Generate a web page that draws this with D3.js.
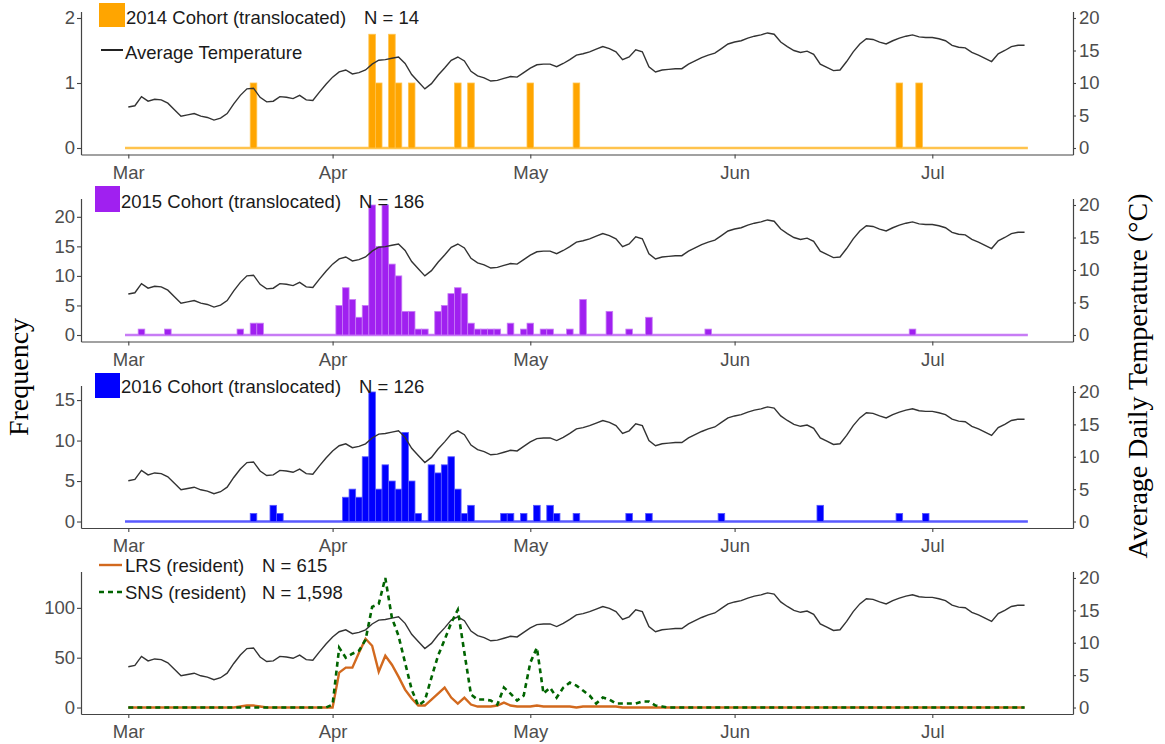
<!DOCTYPE html>
<html>
<head>
<meta charset="utf-8">
<script src="https://cdnjs.cloudflare.com/ajax/libs/d3/7.8.5/d3.min.js"></script>
<style>
  body { margin: 0; background: #fff; }
  svg text { font-family: "Liberation Sans", Arial, sans-serif; }
</style>
</head>
<body>
<div id="chart"></div>
<script>
// first day of the series, every series below is indexed by days after it
var startDate = "2015-03-01";
var monthTicks = ["2015-03-01", "2015-04-01", "2015-05-01", "2015-06-01", "2015-07-01"];

// average daily temperature (°C), Mar 1 .. Jul 15
var temperature = [
  6.3, 6.5, 7.9, 7.2, 7.5, 7.4, 6.9, 5.9, 4.9, 5.1,
  5.3, 4.9, 4.7, 4.3, 4.6, 5.3, 6.8, 8.1, 9.1, 9.2,
  7.8, 7.1, 7.2, 7.9, 7.8, 7.6, 8.1, 7.4, 7.3, 8.6,
  9.8, 10.9, 11.7, 12.0, 11.4, 11.6, 12.0, 12.9, 13.5, 13.6,
  13.8, 14.0, 13.0, 11.3, 10.2, 9.1, 9.9, 11.2, 12.3, 13.5,
  14.0, 13.4, 11.8, 11.1, 10.8, 10.3, 10.4, 10.7, 11.0, 10.9,
  11.6, 12.3, 12.8, 12.9, 12.9, 12.5, 13.0, 13.6, 14.3, 14.5,
  14.8, 15.2, 15.6, 15.3, 14.8, 13.6, 14.0, 15.1, 14.8, 12.5,
  11.7, 12.0, 12.1, 12.2, 12.2, 12.9, 13.4, 13.9, 14.3, 14.6,
  15.3, 16.0, 16.3, 16.5, 16.9, 17.2, 17.4, 17.7, 17.5, 16.3,
  15.6, 15.0, 14.7, 14.9, 14.4, 12.9, 12.4, 11.9, 12.0, 13.3,
  14.8, 16.0, 16.8, 16.7, 16.3, 16.0, 16.5, 16.9, 17.2, 17.4,
  17.1, 17.0, 17.0, 16.8, 16.5, 15.8, 15.5, 15.4, 14.7, 14.3,
  13.8, 13.3, 14.5, 15.0, 15.6, 15.8, 15.8
];

// translocated cohorts: emergence day (days after Mar 1) and count
var days2014   = [19, 37, 38, 40, 41, 43, 50, 52, 61, 68, 117, 120];
var counts2014 = [1, 1.75, 1, 1.75, 1, 1, 1, 1, 1, 1, 1, 1];

var days2015   = [2, 6, 17, 19, 20, 32, 33, 34, 35, 36, 37, 38, 39, 40, 41, 42, 43, 44, 45,
                  47, 48, 49, 50, 51, 52, 53, 54, 55, 56, 58, 60, 61, 63, 64, 67, 69, 73, 76, 79, 88, 119];
var counts2015 = [1, 1, 1, 2, 2, 5, 8, 6, 3, 5, 22, 15, 22, 12, 10, 4, 4, 1, 1,
                  4, 5, 7, 8, 7, 2, 1, 1, 1, 1, 2, 1, 2, 1, 1, 1, 6, 4, 1, 3, 1, 1];

var days2016   = [19, 22, 23, 33, 34, 35, 36, 37, 38, 39, 40, 41, 42, 43, 44,
                  46, 47, 48, 49, 50, 51, 52, 57, 58, 60, 62, 64, 65, 68, 76, 79, 90, 105, 117, 121];
var counts2016 = [1, 2, 1, 3, 4, 3, 8, 16, 4, 7, 5, 4, 11, 5, 1,
                  7, 6, 7, 8, 4, 1, 2, 1, 1, 1, 2, 2, 1, 1, 1, 1, 1, 2, 1, 1];

// resident populations, daily counts Mar 1 .. Jul 15
var lrs = [
  0, 0, 0, 0, 0, 0, 0, 0, 0, 0,
  0, 0, 0, 0, 0, 0, 0, 1, 2, 2,
  1, 0, 0, 0, 0, 0, 0, 0, 0, 0,
  0, 0, 35, 40, 40, 55, 69, 62, 36, 52,
  43, 31, 18, 9, 2, 2, 8, 14, 20, 10,
  4, 10, 3, 1, 1, 1, 2, 5, 2, 1,
  1, 1, 2, 1, 1, 1, 1, 1, 0, 1,
  1, 1, 1, 1, 1, 0, 0, 0, 0, 0,
  0, 0, 0, 0, 0, 0, 0, 0, 0, 0,
  0, 0, 0, 0, 0, 0, 0, 0, 0, 0,
  0, 0, 0, 0, 0, 0, 0, 0, 0, 0,
  0, 0, 0, 0, 0, 0, 0, 0, 0, 0,
  0, 0, 0, 0, 0, 0, 0, 0, 0, 0,
  0, 0, 0, 0, 0, 0, 0
];
var sns = [
  0, 0, 0, 0, 0, 0, 0, 0, 0, 0,
  0, 0, 0, 0, 0, 0, 0, 0, 0, 0,
  0, 0, 0, 0, 0, 0, 0, 0, 0, 0,
  0, 3, 60, 50, 54, 57, 68, 101, 104, 130,
  90, 72, 45, 18, 2, 7, 30, 52, 68, 85,
  98, 55, 13, 8, 8, 7, 3, 20, 14, 7,
  12, 45, 60, 14, 20, 10, 20, 25, 22, 17,
  12, 4, 10, 8, 4, 4, 4, 4, 6, 6,
  2, 1, 0, 0, 0, 0, 0, 0, 0, 0,
  0, 0, 0, 0, 0, 0, 0, 0, 0, 0,
  0, 0, 0, 0, 0, 0, 0, 0, 0, 0,
  0, 0, 0, 0, 0, 0, 0, 0, 0, 0,
  0, 0, 0, 0, 0, 0, 0, 0, 0, 0,
  0, 0, 0, 0, 0, 0, 0
];

var width = 1165, height = 744;
var axisLeftX = 81, axisRightX = 1073;

var svg = d3.select("#chart")
  .append("svg")
    .attr("width", width)
    .attr("height", height);

var t0 = new Date(startDate + "T00:00:00Z");
function dayDate(d) { return new Date(t0.getTime() + d * 864e5); }

// month ticks fall at fixed pixels, the axis line runs past the data on both sides
var x = d3.scaleUtc()
    .domain([new Date(monthTicks[0] + "T00:00:00Z"), new Date(monthTicks[4] + "T00:00:00Z")])
    .range([128.3, 932.3]);
var xAxisScale = x.copy()
    .domain([x.invert(axisLeftX), x.invert(axisRightX)])
    .range([axisLeftX, axisRightX]);

function zip(days, counts) {
  return days.map(function(d, i) { return {day: d, n: counts[i]}; });
}

var panels = [
  {top: 11.5, bottom: 154.5, max: 2, ticks: [0, 1, 2], bars: zip(days2014, counts2014),
   fill: "#FFA500", edge: "#FFC34D", label: "2014 Cohort (translocated)", n: "N = 14",
   legend: {sx: 99, sy: 3, sw: 26, sh: 24, tx: 126, ty: 23.5, nx: 364}},
  {top: 198.5, bottom: 341.5, max: 22, ticks: [0, 5, 10, 15, 20], bars: zip(days2015, counts2015),
   fill: "#A020F0", edge: "#C77CF5", label: "2015 Cohort (translocated)", n: "N = 186",
   legend: {sx: 95, sy: 186, sw: 25, sh: 26, tx: 121, ty: 208, nx: 359}},
  {top: 385.5, bottom: 528, max: 16, ticks: [0, 5, 10, 15], bars: zip(days2016, counts2016),
   fill: "#0000FF", edge: "#5A5AFF", label: "2016 Cohort (translocated)", n: "N = 126",
   legend: {sx: 95, sy: 373, sw: 25, sh: 25, tx: 121, ty: 393, nx: 359}},
  {top: 571.5, bottom: 714, max: 130, ticks: [0, 50, 100], bars: null}
];

panels.forEach(function(p, k) {
  var g = svg.append("g");

  var yL = d3.scaleLinear()
      .domain([-0.05 * p.max, 1.05 * p.max])
      .range([p.bottom, p.top]);
  var yR = d3.scaleLinear()
      .domain([-0.05 * 20, 1.05 * 20])
      .range([p.bottom, p.top]);

  var tempLine = d3.line()
      .x(function(d, i) { return x(dayDate(i)); })
      .y(function(d) { return yR(d); });

  if (p.bars) {
    // zero line made by the empty bins
    g.append("line")
        .attr("x1", x(dayDate(-0.5)))
        .attr("x2", x(dayDate(temperature.length - 0.5)))
        .attr("y1", yL(0))
        .attr("y2", yL(0))
        .style("stroke", p.edge)
        .style("stroke-width", 2.5);

    g.selectAll("rect.bar")
        .data(p.bars)
        .enter()
        .append("rect")
          .attr("class", "bar")
          .attr("x", function(d) { return x(dayDate(d.day - 0.5)); })
          .attr("width", function(d) { return x(dayDate(d.day + 0.5)) - x(dayDate(d.day - 0.5)); })
          .attr("y", function(d) { return yL(d.n); })
          .attr("height", function(d) { return yL(0) - yL(d.n); })
          .style("fill", p.fill)
          .style("stroke", p.edge)
          .style("stroke-width", 0.8);

    g.append("path")
        .datum(temperature)
        .attr("d", tempLine)
        .style("fill", "none")
        .style("stroke", "#333")
        .style("stroke-width", 1.4);
  } else {
    g.append("path")
        .datum(temperature)
        .attr("d", tempLine)
        .style("fill", "none")
        .style("stroke", "#333")
        .style("stroke-width", 1.4);

    var countLine = d3.line()
        .x(function(d, i) { return x(dayDate(i)); })
        .y(function(d) { return yL(d); });

    g.append("path")
        .datum(lrs)
        .attr("d", countLine)
        .style("fill", "none")
        .style("stroke", "#D2691E")
        .style("stroke-width", 2.4);

    g.append("path")
        .datum(sns)
        .attr("d", countLine)
        .style("fill", "none")
        .style("stroke", "#006400")
        .style("stroke-width", 2.6)
        .style("stroke-dasharray", "5,4");
  }

  // axes
  var ax = [];
  ax.push(g.append("g")
      .attr("transform", "translate(" + axisLeftX + ",0)")
      .call(d3.axisLeft(yL).tickValues(p.ticks).tickFormat(d3.format("d"))
        .tickSize(4).tickPadding(2).tickSizeOuter(0)));
  ax.push(g.append("g")
      .attr("transform", "translate(" + axisRightX + ",0)")
      .call(d3.axisRight(yR).tickValues([0, 5, 10, 15, 20]).tickFormat(d3.format("d"))
        .tickSize(3).tickPadding(3).tickSizeOuter(0)));
  ax.push(g.append("g")
      .attr("transform", "translate(0," + p.bottom + ")")
      .call(d3.axisBottom(xAxisScale)
        .tickValues(monthTicks.map(function(m) { return new Date(m + "T00:00:00Z"); }))
        .tickFormat(d3.utcFormat("%b"))
        .tickSize(4).tickPadding(7).tickSizeOuter(0)));

  ax.forEach(function(a) {
    a.select(".domain").style("stroke", "#444").style("stroke-width", 1.2);
    a.selectAll(".tick line").style("stroke", "#444").style("stroke-width", 1.1);
    a.selectAll(".tick text")
        .style("fill", "#4D4D4D")
        .style("font-size", "18.5px")
        .style("font-family", "Liberation Sans, Arial, sans-serif");
  });

  // legends
  if (p.bars) {
    var L = p.legend;
    g.append("rect")
        .attr("x", L.sx).attr("y", L.sy)
        .attr("width", L.sw).attr("height", L.sh)
        .style("fill", p.fill);
    g.append("text")
        .attr("x", L.tx).attr("y", L.ty)
        .style("font-size", "18.5px").style("fill", "#1a1a1a")
        .text(p.label);
    g.append("text")
        .attr("x", L.nx).attr("y", L.ty)
        .style("font-size", "18.5px").style("fill", "#1a1a1a")
        .text(p.n);
    if (k === 0) {
      g.append("line")
          .attr("x1", 101).attr("x2", 123).attr("y1", 50).attr("y2", 50)
          .style("stroke", "#222").style("stroke-width", 2);
      g.append("text")
          .attr("x", 125).attr("y", 58.5)
          .style("font-size", "18.5px").style("fill", "#1a1a1a")
          .text("Average Temperature");
    }
  } else {
    g.append("line")
        .attr("x1", 99).attr("x2", 122).attr("y1", 565).attr("y2", 565)
        .style("stroke", "#D2691E").style("stroke-width", 2.4);
    g.append("text")
        .attr("x", 125).attr("y", 572)
        .style("font-size", "18.5px").style("fill", "#1a1a1a")
        .text("LRS (resident)");
    g.append("text")
        .attr("x", 262).attr("y", 572)
        .style("font-size", "18.5px").style("fill", "#1a1a1a")
        .text("N = 615");
    g.append("line")
        .attr("x1", 99).attr("x2", 123).attr("y1", 592).attr("y2", 592)
        .style("stroke", "#006400").style("stroke-width", 2.6)
        .style("stroke-dasharray", "5,4");
    g.append("text")
        .attr("x", 125).attr("y", 599)
        .style("font-size", "18.5px").style("fill", "#1a1a1a")
        .text("SNS (resident)");
    g.append("text")
        .attr("x", 262).attr("y", 599)
        .style("font-size", "18.5px").style("fill", "#1a1a1a")
        .text("N = 1,598");
  }
});

// axis titles
svg.append("text")
    .attr("transform", "translate(28,377) rotate(-90)")
    .style("text-anchor", "middle")
    .style("font-family", "Liberation Serif, Times New Roman, serif")
    .style("font-size", "28px")
    .style("fill", "#000")
    .text("Frequency");

svg.append("text")
    .attr("transform", "translate(1147,376) rotate(-90)")
    .style("text-anchor", "middle")
    .style("font-family", "Liberation Serif, Times New Roman, serif")
    .style("font-size", "28px")
    .style("fill", "#000")
    .text("Average Daily Temperature (°C)");
</script>
</body>
</html>
